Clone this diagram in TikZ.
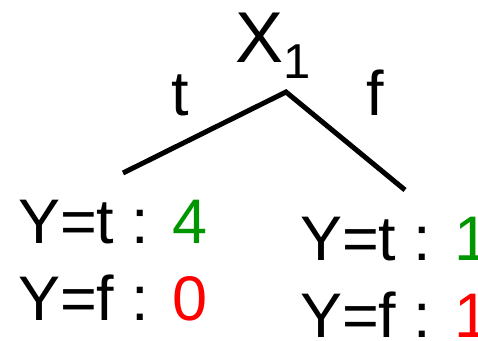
\documentclass[tikz,border=0pt]{standalone}
\usepackage{fontspec}
\setmainfont{Liberation Sans}
\definecolor{cgreen}{RGB}{0,150,0}
\definecolor{cred}{RGB}{255,0,0}
\begin{document}
\begin{tikzpicture}[x=1pt,y=1pt,
  lbl/.style={inner sep=0pt,outer sep=0pt,anchor=base west,font=\fontsize{63}{75}\selectfont},
  edge/.style={line width=5pt}]
\useasboundingbox (0,0) rectangle (478,-340);
\node[lbl,font=\fontsize{72}{86}\selectfont] (x) at (235,-62) {X};
\node[lbl,font=\fontsize{49}{58}\selectfont] (sub) at (x.base east) [yshift=-16pt] {1};
\coordinate (root) at (286,-92);
\coordinate (lt) at (123,-173);
\coordinate (rt) at (405,-190);
\draw[edge] (lt) -- (root) -- (rt);
\node[lbl] (et) at (171,-115) {t};
\node[lbl] (ef) at (366,-115) {f};
\node[lbl] (l1) at (18,-243) {Y=t : \textcolor{cgreen}{4}};
\node[lbl] (l2) at (18,-320) {Y=f : \textcolor{cred}{0}};
\node[lbl] (r1) at (300,-260) {Y=t : \textcolor{cgreen}{1}};
\node[lbl] (r2) at (300,-337) {Y=f : \textcolor{cred}{1}};
\end{tikzpicture}
\end{document}
